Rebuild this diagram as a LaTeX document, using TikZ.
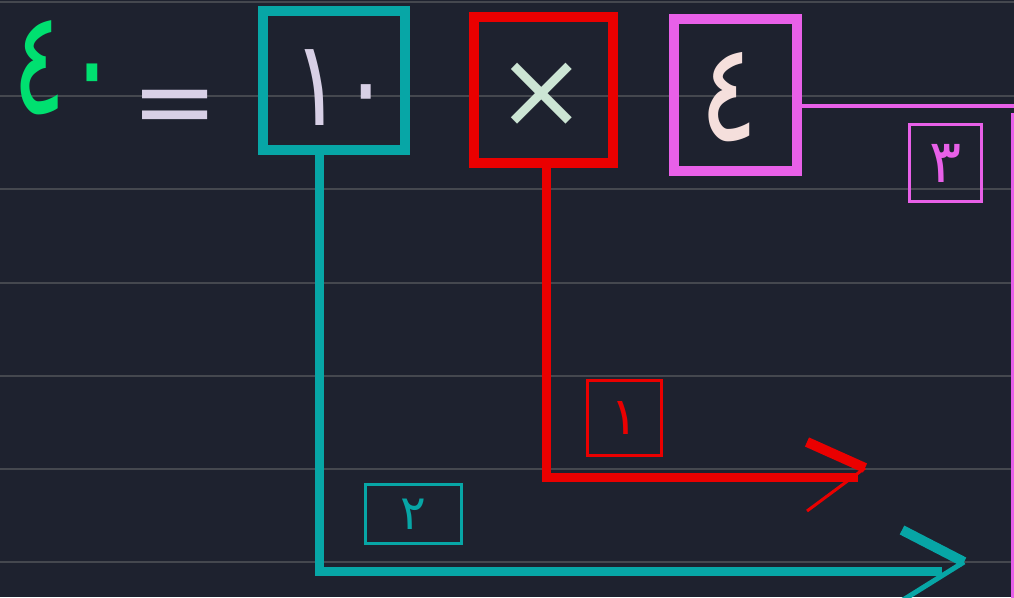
\documentclass[tikz,border=0pt]{standalone}
\usepackage{fontspec}
\usepackage{graphicx}
\newfontfamily\arabicfont[Script=Arabic]{DejaVu Sans}
\definecolor{bg}{HTML}{1E222F}
\definecolor{gridc}{HTML}{45484F}
\definecolor{tealc}{HTML}{07A6A6}
\definecolor{redc}{HTML}{EA0000}
\definecolor{magc}{HTML}{E860E8}
\definecolor{greenc}{HTML}{00E070}
\definecolor{lav}{HTML}{D8D0E6}
\definecolor{mint}{HTML}{CCE5D4}
\definecolor{pinkc}{HTML}{F5DFDC}
\newcommand{\tall}[2]{\scalebox{1}[#1]{#2}}
\tikzset{
  bigbox/.style={draw, line width=10pt, inner sep=0pt},
  smallbox/.style={draw, line width=3pt, inner sep=0pt},
  gridline/.style={gridc, line width=2.5pt},
  thickline/.style={line width=9pt},
  plaintext/.style={inner sep=0pt},
}
\begin{document}
\begin{tikzpicture}[x=1pt,y=-1pt]
\fill[bg] (0,0) rectangle (1014,597);
\useasboundingbox (0,0) rectangle (1014,597);
\foreach \gy in {2,96,189,283,376,469,562} \draw[gridline] (0,\gy) -- (1014,\gy);

% connector coordinates
\coordinate (tcorner) at (319.5,571);
\coordinate (tend) at (942,571);
\coordinate (ttip) at (964,562);
\coordinate (tup) at (902,530);
\coordinate (tlow) at (903,600);
\coordinate (rcorner) at (546.5,477);
\coordinate (rend) at (858,477);
\coordinate (rtip) at (865,468);
\coordinate (rup) at (807,442);
\coordinate (rlow) at (807,511);
\coordinate (mright) at (1014,106);
\coordinate (mtop) at (1012.5,113);
\coordinate (mbot) at (1012.5,600);

% equation text
\node[plaintext, font=\arabicfont\fontsize{100}{100}\selectfont, text=greenc] (forty) at (66,68) {\tall{1.45}{٤٠}};
\node[plaintext, font=\arabicfont\fontsize{104}{104}\selectfont, text=lav] (eq) at (175,114) {=};

% big boxes
\node[bigbox, draw=tealc, minimum width=142pt, minimum height=139pt] (ten) at (334,80.5) {};
\node[plaintext, font=\arabicfont\fontsize{92}{92}\selectfont, text=lav] (tentxt) at (342,88) {\tall{1.3}{١٠}};
\node[bigbox, draw=redc, minimum width=139pt, minimum height=146pt] (times) at (543.5,90) {};
\node[plaintext, font=\arabicfont\fontsize{108}{108}\selectfont, text=mint] (timestxt) at (542,95) {×};
\node[bigbox, draw=magc, minimum width=123pt, minimum height=152pt] (four) at (735.5,95) {};
\node[plaintext, font=\arabicfont\fontsize{110}{110}\selectfont, text=pinkc] (fourtxt) at (729,97) {\tall{1.25}{٤}};

% small step labels
\node[smallbox, draw=redc, text=redc, minimum width=74pt, minimum height=75pt, font=\arabicfont\fontsize{52}{52}\selectfont] (one) at (624.5,418) {١};
\node[smallbox, draw=tealc, text=tealc, minimum width=96pt, minimum height=59pt, font=\arabicfont\fontsize{48}{48}\selectfont] (two) at (413.5,514) {٢};
\node[smallbox, draw=magc, text=magc, minimum width=72pt, minimum height=77pt, font=\arabicfont\fontsize{60}{60}\selectfont] (three) at (945.5,163) {٣};

% teal connector
\draw[tealc, thickline] (ten.south -| tcorner) -- (tcorner) -- (tend);
\draw[tealc, line width=10pt] (tup) -- (ttip);
\draw[tealc, line width=5pt] (ttip) -- (tlow);

% red connector
\draw[redc, thickline] (times.south -| rcorner) -- (rcorner) -- (rend);
\draw[redc, line width=10pt] (rup) -- (rtip);
\draw[redc, line width=3pt] (rtip) -- (rlow);

% magenta connector
\draw[magc, line width=3.5pt] ([yshift=-11pt]four.east) -- (mright);
\draw[magc, line width=3pt] (mtop) -- (mbot);
\end{tikzpicture}
\end{document}
